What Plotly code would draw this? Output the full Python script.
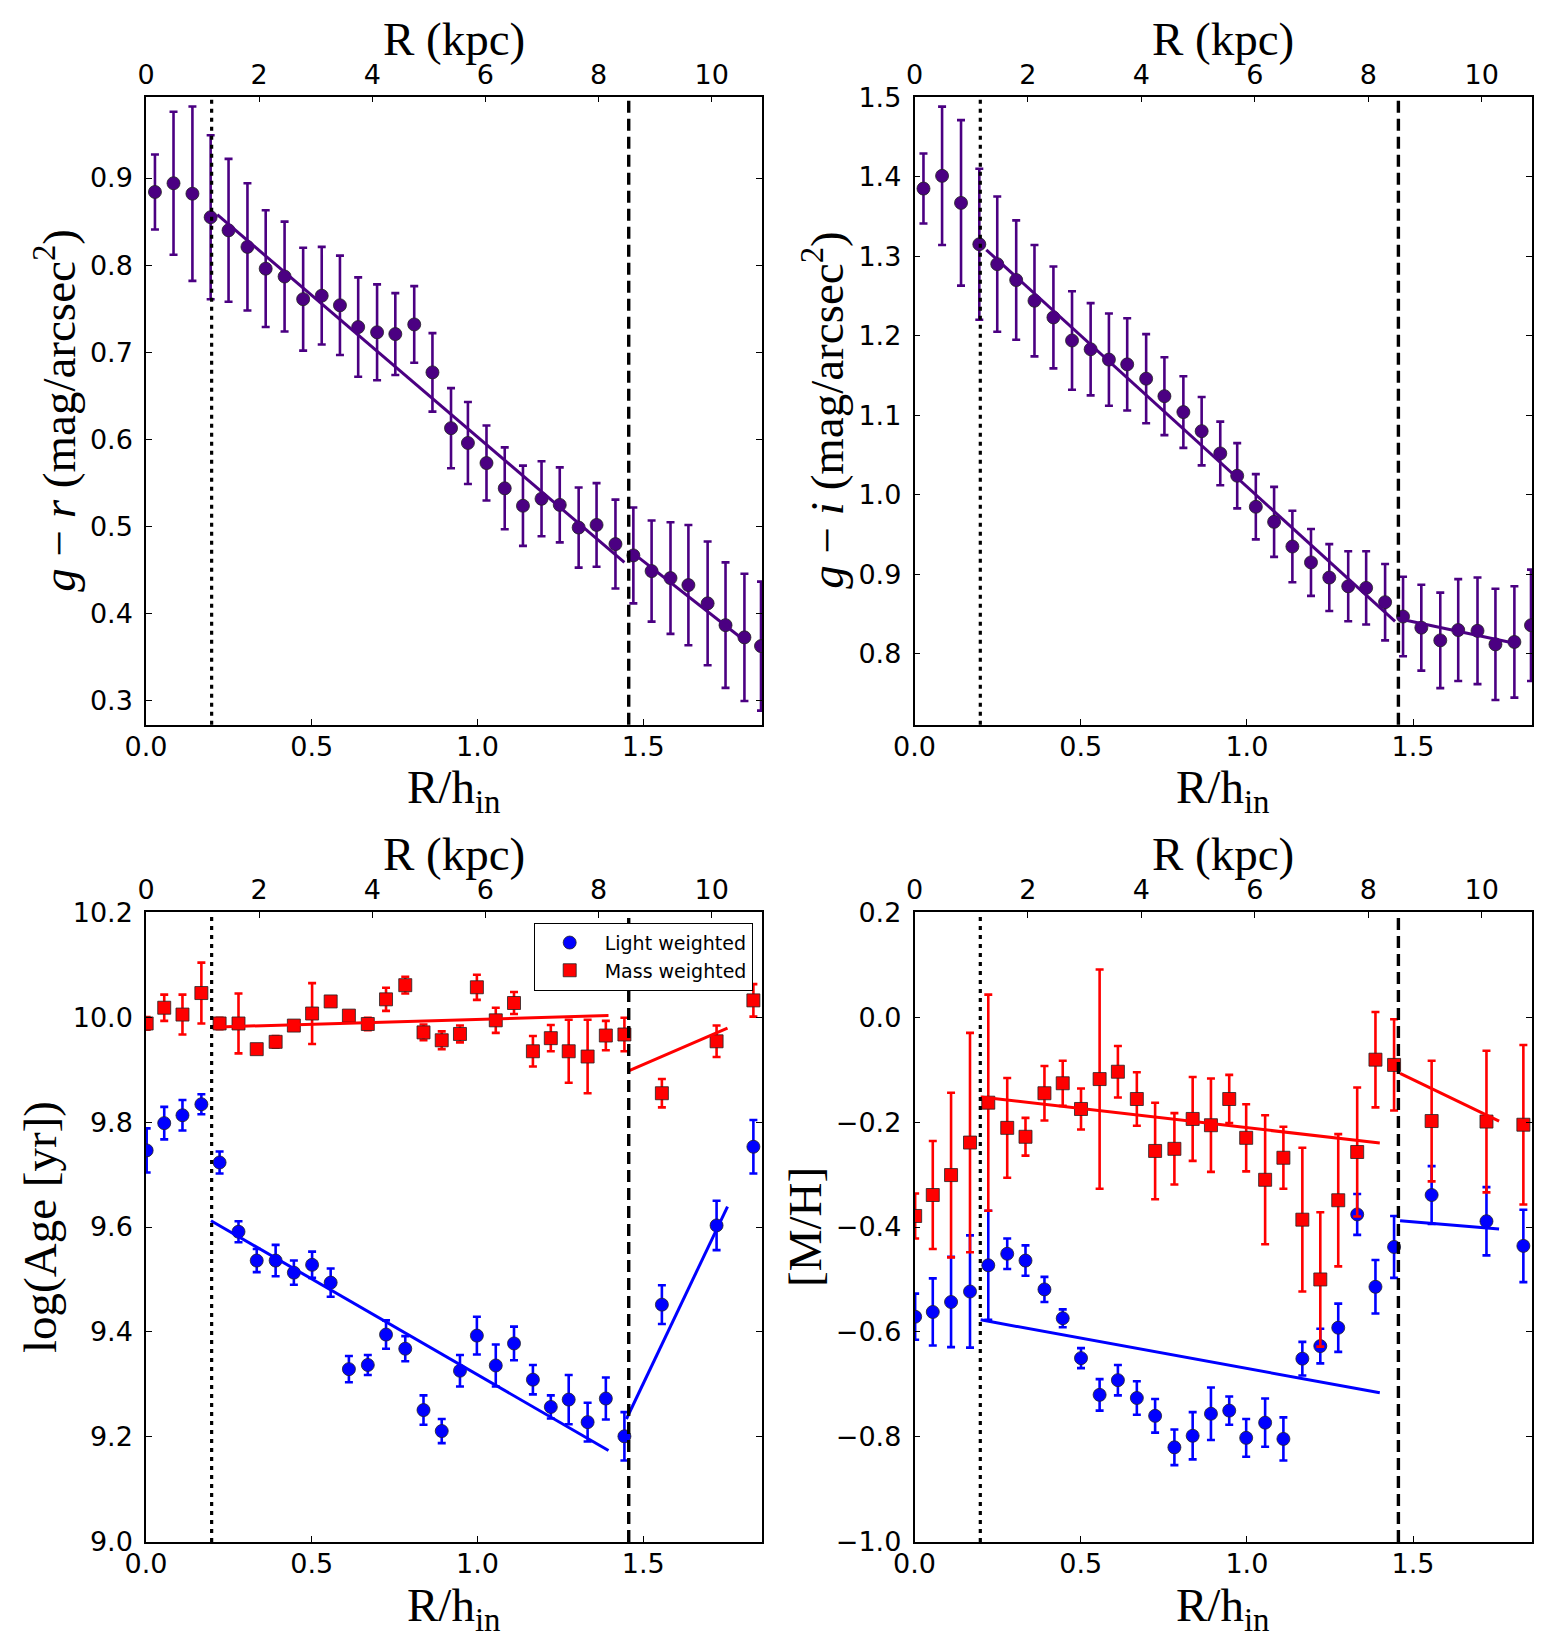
import plotly.graph_objects as go

# ---------------- data ----------------
# colour profiles (top row)
R_color = [0.027, 0.083, 0.140, 0.195, 0.249, 0.306, 0.361, 0.418, 0.474, 0.530,
           0.585, 0.640, 0.697, 0.752, 0.809, 0.864, 0.920, 0.971, 1.027, 1.082,
           1.137, 1.193, 1.248, 1.305, 1.359, 1.416, 1.470, 1.525, 1.582, 1.636,
           1.694, 1.748, 1.805, 1.855]
gr = [0.884, 0.894, 0.882, 0.855, 0.840, 0.821, 0.796, 0.787, 0.761, 0.765,
      0.754, 0.729, 0.723, 0.721, 0.732, 0.677, 0.613, 0.596, 0.573, 0.544,
      0.524, 0.532, 0.525, 0.499, 0.502, 0.480, 0.467, 0.449, 0.441, 0.433,
      0.412, 0.387, 0.373, 0.363]
gr_err = [0.043, 0.082, 0.100, 0.094, 0.082, 0.073, 0.067, 0.063, 0.059, 0.056,
          0.057, 0.057, 0.055, 0.047, 0.044, 0.045, 0.046, 0.047, 0.043, 0.047,
          0.046, 0.043, 0.043, 0.046, 0.048, 0.051, 0.055, 0.058, 0.064, 0.069,
          0.071, 0.072, 0.073, 0.074]
gi = [1.385, 1.401, 1.367, 1.315, 1.290, 1.270, 1.244, 1.223, 1.194, 1.183,
      1.170, 1.164, 1.146, 1.124, 1.104, 1.080, 1.052, 1.024, 0.985, 0.966,
      0.935, 0.915, 0.896, 0.885, 0.883, 0.865, 0.847, 0.833, 0.817, 0.830,
      0.829, 0.812, 0.815, 0.836]
gi_err = [0.044, 0.087, 0.104, 0.095, 0.085, 0.075, 0.070, 0.064, 0.062, 0.058,
          0.058, 0.058, 0.056, 0.049, 0.045, 0.043, 0.040, 0.041, 0.041, 0.044,
          0.045, 0.042, 0.042, 0.044, 0.046, 0.048, 0.050, 0.054, 0.060, 0.064,
          0.067, 0.070, 0.070, 0.070]

# stellar population profiles (bottom row)
R_pop = [0.002, 0.055, 0.110, 0.167, 0.222, 0.279, 0.334, 0.391, 0.446, 0.501,
         0.557, 0.612, 0.669, 0.724, 0.782, 0.837, 0.892, 0.947, 0.998, 1.055,
         1.110, 1.167, 1.221, 1.275, 1.332, 1.387, 1.443, 1.556, 1.721, 1.832]
age_light = [9.746, 9.798, 9.813, 9.834, 9.723, 9.591, 9.536, 9.536, 9.513, 9.528,
             9.494, 9.329, 9.337, 9.395, 9.368, 9.251, 9.211, 9.326, 9.393, 9.336,
             9.378, 9.309, 9.257, 9.271, 9.228, 9.273, 9.201, 9.452, 9.603, 9.753]
age_light_err = [0.042, 0.031, 0.029, 0.019, 0.021, 0.020, 0.022, 0.030, 0.023, 0.025,
                 0.027, 0.025, 0.019, 0.027, 0.024, 0.028, 0.023, 0.030, 0.036, 0.040,
                 0.032, 0.028, 0.022, 0.047, 0.037, 0.040, 0.046, 0.037, 0.047, 0.051]
age_mass = [9.988, 10.018, 10.005, 10.046, 9.988, 9.988, 9.939, 9.953, 9.984, 10.007,
            10.030, 10.003, 9.987, 10.034, 10.061, 9.971, 9.956, 9.968, 10.057, 9.994,
            10.027, 9.935, 9.960, 9.935, 9.925, 9.965, 9.967, 9.855, 9.954, 10.032]
age_mass_err = [0.012, 0.025, 0.038, 0.058, 0.011, 0.057, 0.006, 0.011, 0.008, 0.058,
                0.008, 0.008, 0.012, 0.022, 0.016, 0.015, 0.017, 0.016, 0.024, 0.024,
                0.021, 0.029, 0.025, 0.060, 0.070, 0.028, 0.032, 0.027, 0.030, 0.031]
mh_light = [-0.571, -0.562, -0.543, -0.523, -0.473, -0.451, -0.464, -0.519, -0.574, -0.650,
            -0.720, -0.692, -0.726, -0.760, -0.820, -0.798, -0.756, -0.750, -0.802, -0.773,
            -0.804, -0.651, -0.627, -0.592, -0.376, -0.514, -0.438, -0.339, -0.389, -0.436]
mh_light_err = [0.044, 0.064, 0.086, 0.107, 0.104, 0.029, 0.029, 0.024, 0.017, 0.019,
                0.030, 0.029, 0.032, 0.032, 0.034, 0.045, 0.050, 0.027, 0.036, 0.046,
                0.041, 0.032, 0.033, 0.046, 0.039, 0.051, 0.059, 0.055, 0.065, 0.069]
mh_mass = [-0.379, -0.339, -0.301, -0.239, -0.163, -0.211, -0.228, -0.145, -0.126, -0.175,
           -0.118, -0.104, -0.156, -0.255, -0.251, -0.194, -0.206, -0.156, -0.230, -0.310,
           -0.268, -0.386, -0.500, -0.349, -0.257, -0.081, -0.091, -0.198, -0.199, -0.205]
mh_mass_err = [0.043, 0.103, 0.157, 0.209, 0.206, 0.095, 0.036, 0.052, 0.043, 0.039,
               0.209, 0.049, 0.051, 0.092, 0.068, 0.080, 0.089, 0.046, 0.064, 0.123,
               0.059, 0.137, 0.128, 0.126, 0.123, 0.091, 0.087, 0.115, 0.135, 0.152]

# linear fits: [start, end] in R/h_in and in value
fit_gr_in_x, fit_gr_in_y = [0.215, 1.443], [0.858, 0.459]
fit_gr_out_x, fit_gr_out_y = [1.468, 1.810], [0.470, 0.368]
fit_gi_in_x, fit_gi_in_y = [0.216, 1.446], [1.308, 0.841]
fit_gi_out_x, fit_gi_out_y = [1.461, 1.809], [0.844, 0.813]
fit_age_mass_in_x, fit_age_mass_in_y = [0.196, 1.395], [9.981, 10.003]
fit_age_mass_out_x, fit_age_mass_out_y = [1.454, 1.754], [9.897, 9.979]
fit_age_light_in_x, fit_age_light_in_y = [0.196, 1.395], [9.612, 9.174]
fit_age_light_out_x, fit_age_light_out_y = [1.449, 1.754], [9.234, 9.639]
fit_mh_mass_in_x, fit_mh_mass_in_y = [0.199, 1.400], [-0.152, -0.240]
fit_mh_mass_out_x, fit_mh_mass_out_y = [1.461, 1.759], [-0.107, -0.198]
fit_mh_light_in_x, fit_mh_light_in_y = [0.199, 1.400], [-0.577, -0.716]
fit_mh_light_out_x, fit_mh_light_out_y = [1.461, 1.759], [-0.388, -0.404]

R_BREAK_INNER = 0.198   # R/h_in
R_BREAK_OUTER = 1.456   # R/h_in
H_IN_KPC = 5.86         # kpc
X_MAX = 1.858
x_ticks = [0.0, 0.5, 1.0, 1.5]
kpc_ticks = [0, 2, 4, 6, 8, 10]
ylim_gr = [0.2728, 0.9933]
ylim_gi = [0.711, 1.5005]
ylim_age = [8.9995, 10.2005]
ylim_mh = [-1.0005, 0.2005]

# ---------------- styling ----------------
W, H = 1550, 1650
PURPLE = "#4B0082"
BLUE = "#0000FF"
RED = "#FF0000"
TICK_FONT = dict(family="DejaVu Sans", size=27, color="black")
TITLE_FONT = dict(family="Liberation Serif", size=47, color="black")

col_px = [(146, 762), (914.5, 1532)]
row_px = [(96.7, 724.7), (912, 1542)]


def px_x(v):
    return v / W


def px_y(v):
    return 1 - v / H


fig = go.Figure()
layout = dict(width=W, height=H, margin=dict(l=0, r=0, t=0, b=0),
              paper_bgcolor="white", plot_bgcolor="white", showlegend=True)

panels = [
    dict(col=0, row=0, ylim=ylim_gr, ytitle="<i>g</i> − <i>r</i> (mag/arcsec<sup>2</sup>)", ytitle_x=56),
    dict(col=1, row=0, ylim=ylim_gi, ytitle="<i>g</i> − <i>i</i> (mag/arcsec<sup>2</sup>)", ytitle_x=824),
    dict(col=0, row=1, ylim=ylim_age, ytitle="log(Age [yr])", ytitle_x=40),
    dict(col=1, row=1, ylim=ylim_mh, ytitle="[M/H]", ytitle_x=805),
]

annotations = []
shapes = []
axis_refs = []
for i, p in enumerate(panels):
    xb = 2 * i + 1
    xt = 2 * i + 2
    yi = i + 1
    xb_name = "x" if xb == 1 else f"x{xb}"
    xt_name = f"x{xt}"
    y_name = "y" if yi == 1 else f"y{yi}"
    xb_key = "xaxis" if xb == 1 else f"xaxis{xb}"
    xt_key = f"xaxis{xt}"
    y_key = "yaxis" if yi == 1 else f"yaxis{yi}"
    c0, c1 = col_px[p["col"]]
    r0, r1 = row_px[p["row"]]
    xdom = [px_x(c0), px_x(c1)]
    ydom = [px_y(r1), px_y(r0)]
    common = dict(showgrid=False, zeroline=False, showline=True, linecolor="black",
                  linewidth=1.5, ticks="inside", ticklen=6, tickwidth=1.2,
                  tickcolor="black", tickfont=TICK_FONT, automargin=False)
    layout[xb_key] = dict(domain=xdom, anchor=y_name, range=[0, X_MAX],
                          tickvals=x_ticks, tickformat=".1f", mirror=False,
                          ticklabelstandoff=-3, **common)
    layout[xt_key] = dict(overlaying=xb_name, anchor=y_name, side="top",
                          range=[0, X_MAX * H_IN_KPC], tickvals=kpc_ticks,
                          tickformat="d", mirror=False, ticklabelstandoff=0, **common)
    layout[y_key] = dict(domain=ydom, anchor=xb_name, range=p["ylim"],
                         dtick=0.1 if p["row"] == 0 else 0.2,
                         tick0=0, tickformat=".1f", mirror="ticks", ticklabelstandoff=6, **common)
    axis_refs.append((xb_name, xt_name, y_name))
    # dummy trace so that the top axis is drawn
    fig.add_trace(go.Scatter(x=[0], y=[None], xaxis=xt_name, yaxis=y_name,
                             showlegend=False, hoverinfo="skip", mode="markers"))
    # axis titles
    cx = (c0 + c1) / 2
    annotations.append(dict(text="R (kpc)", x=px_x(cx), y=px_y(r0 - 58), xref="paper", yref="paper",
                            showarrow=False, font=TITLE_FONT, xanchor="center", yanchor="middle"))
    annotations.append(dict(text="R/h<sub>in</sub>", x=px_x(cx), y=px_y(r1 + 66), xref="paper", yref="paper",
                            showarrow=False, font=TITLE_FONT, xanchor="center", yanchor="middle"))
    annotations.append(dict(text=p["ytitle"], x=px_x(p["ytitle_x"]), y=px_y((r0 + r1) / 2), xref="paper",
                            yref="paper", showarrow=False, font=TITLE_FONT, textangle=-90,
                            xanchor="center", yanchor="middle"))
    # break radii
    shapes.append(dict(type="line", xref=xb_name, yref=f"{y_name} domain", x0=R_BREAK_INNER, x1=R_BREAK_INNER,
                       y0=0, y1=1, line=dict(color="black", width=3.2, dash="4px,5px"), layer="above"))
    shapes.append(dict(type="line", xref=xb_name, yref=f"{y_name} domain", x0=R_BREAK_OUTER, x1=R_BREAK_OUTER,
                       y0=0, y1=1, line=dict(color="black", width=3.4, dash="12px,6px"), layer="above"))


def err_trace(x, y, e, color, symbol, axes, name=None, legend=False):
    return go.Scatter(x=x, y=y, mode="markers", name=name, showlegend=legend,
                      xaxis=axes[0], yaxis=axes[2],
                      marker=dict(symbol=symbol, size=13, color=color, line=dict(color="#222222", width=0.8)),
                      error_y=dict(type="data", array=e, visible=True, color=color, thickness=2.6, width=4),
                      hoverinfo="skip")


def line_trace(x, y, color, axes):
    return go.Scatter(x=x, y=y, mode="lines", showlegend=False, xaxis=axes[0], yaxis=axes[2],
                      line=dict(color=color, width=3), hoverinfo="skip")


a1, a2, a3, a4 = axis_refs
# panel 1
fig.add_trace(err_trace(R_color, gr, gr_err, PURPLE, "circle", a1))
fig.add_trace(line_trace(fit_gr_in_x, fit_gr_in_y, PURPLE, a1))
fig.add_trace(line_trace(fit_gr_out_x, fit_gr_out_y, PURPLE, a1))
# panel 2
fig.add_trace(err_trace(R_color, gi, gi_err, PURPLE, "circle", a2))
fig.add_trace(line_trace(fit_gi_in_x, fit_gi_in_y, PURPLE, a2))
fig.add_trace(line_trace(fit_gi_out_x, fit_gi_out_y, PURPLE, a2))
# panel 3
fig.add_trace(err_trace(R_pop, age_light, age_light_err, BLUE, "circle", a3, "Light weighted", True))
fig.add_trace(err_trace(R_pop, age_mass, age_mass_err, RED, "square", a3, "Mass weighted", True))
fig.add_trace(line_trace(fit_age_mass_in_x, fit_age_mass_in_y, RED, a3))
fig.add_trace(line_trace(fit_age_mass_out_x, fit_age_mass_out_y, RED, a3))
fig.add_trace(line_trace(fit_age_light_in_x, fit_age_light_in_y, BLUE, a3))
fig.add_trace(line_trace(fit_age_light_out_x, fit_age_light_out_y, BLUE, a3))
# panel 4
fig.add_trace(err_trace(R_pop, mh_light, mh_light_err, BLUE, "circle", a4))
fig.add_trace(err_trace(R_pop, mh_mass, mh_mass_err, RED, "square", a4))
fig.add_trace(line_trace(fit_mh_mass_in_x, fit_mh_mass_in_y, RED, a4))
fig.add_trace(line_trace(fit_mh_mass_out_x, fit_mh_mass_out_y, RED, a4))
fig.add_trace(line_trace(fit_mh_light_in_x, fit_mh_light_in_y, BLUE, a4))
fig.add_trace(line_trace(fit_mh_light_out_x, fit_mh_light_out_y, BLUE, a4))

layout["annotations"] = annotations
layout["shapes"] = shapes
layout["legend"] = dict(x=px_x(752.7), y=px_y(922.7), xanchor="right", yanchor="top",
                        bgcolor="white", bordercolor="black", borderwidth=1,
                        font=dict(family="DejaVu Sans", size=19, color="black"),
                        itemwidth=60, tracegroupgap=0)
fig.update_layout(**layout)
fig.write_html("out.html")
